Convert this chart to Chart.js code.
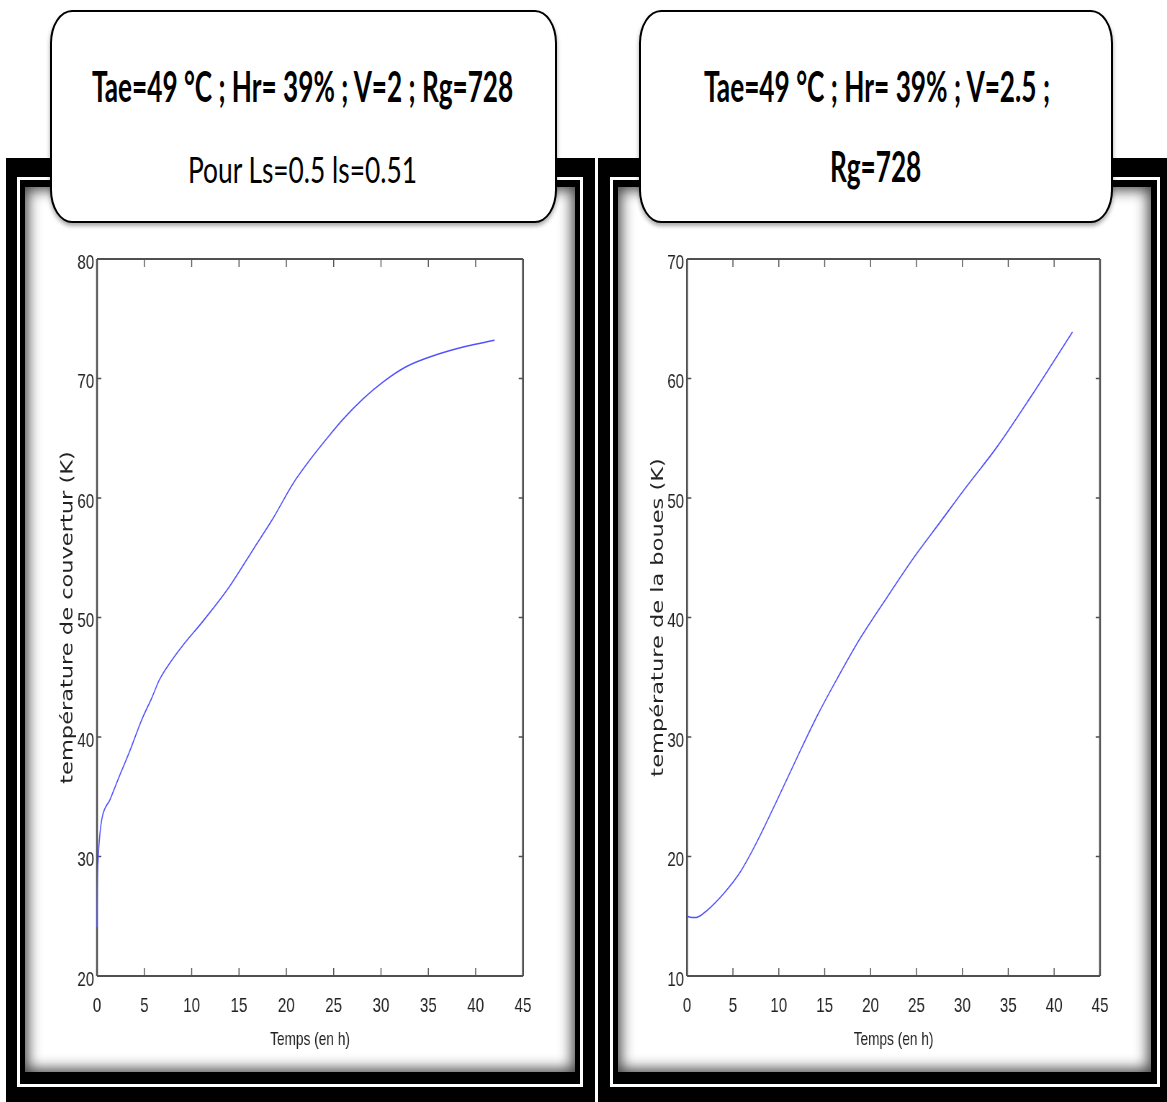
<!DOCTYPE html>
<html lang="fr">
<head>
<meta charset="utf-8" />
<title>Température de couverture et des boues</title>
<script src="https://cdn.jsdelivr.net/npm/chart.js"></script>
<style>
  body { margin: 0; width: 1167px; height: 1102px; overflow: hidden; background: #fff; position: relative; font-family: Lato, "Open Sans", sans-serif; }
  .panel { position: absolute; background: #000; }
  .ring { position: absolute; border: 3px solid #fff; box-sizing: border-box; background: #000; }
  .inner { position: absolute; background: #fff; box-shadow: inset 0 0 14px 3px rgba(0,0,0,0.75); }
  .chartBox { position: absolute; transform-origin: 0 0; z-index: 2; }
  .titre { position: absolute; background: #fff; border: 2.5px solid #000; box-sizing: border-box; border-radius: 22px / 33px; box-shadow: 0 3px 4px rgba(0,0,0,0.35); z-index: 5; }
  .ligne { position: absolute; white-space: nowrap; line-height: 1; z-index: 6; color: #000; }
  .ligne span { display: inline-block; transform-origin: 0 0; }
</style>
</head>
<body>

<!-- cadres noirs -->
<div class="panel" style="left:6px; top:158px; width:589px; height:960px;">
  <div class="ring" style="left:11px; top:19px; width:566px; height:910px;">
    <div class="inner" style="left:5px; top:7px; right:5px; bottom:12px;"></div>
  </div>
</div>
<div class="panel" style="left:598px; top:158px; width:580px; height:960px;">
  <div class="ring" style="left:12px; top:19px; width:550px; height:910px;">
    <div class="inner" style="left:5px; top:7px; right:6px; bottom:12px;"></div>
  </div>
</div>

<!-- titres -->
<div class="titre" style="left:50px; top:10px; width:507px; height:213px;"></div>
<div class="titre" style="left:639px; top:10px; width:474px; height:213px;"></div>

<div class="ligne" data-cx="302.5" data-w="421" style="top:65px; font-weight:700; font-size:42px;"><span>Tae=49 °C ; Hr= 39% ; V=2 ; Rg=728</span></div>
<div class="ligne" data-cx="302.5" data-w="229" style="top:151px; font-weight:400; font-size:36px;"><span>Pour Ls=0.5 ls=0.51</span></div>
<div class="ligne" data-cx="877" data-w="346" style="top:65px; font-weight:700; font-size:42px;"><span>Tae=49 °C ; Hr= 39% ; V=2.5 ;</span></div>
<div class="ligne" data-cx="875.5" data-w="91" style="top:145px; font-weight:700; font-size:42px;"><span>Rg=728</span></div>

<!-- graphiques -->
<div class="chartBox" id="boxGauche" style="left:30px; top:235px; width:750px; height:830px;">
  <canvas id="Couverture"></canvas>
</div>
<div class="chartBox" id="boxDroite" style="left:622px; top:235px; width:729.2px; height:830px;">
  <canvas id="Boues"></canvas>
</div>

<script>

  // --- donnees ---
  const xTicks = [0, 5, 10, 15, 20, 25, 30, 35, 40, 45];
  const yTicksCouverture = [20, 30, 40, 50, 60, 70, 80];
  const yTicksBoues = [10, 20, 30, 40, 50, 60, 70];

  const tempsCouverture = [0, 0.03, 0.14, 0.25, 0.5, 1.4, 2.25, 3.5, 4.7, 5.8, 6.6, 7.7, 9.1, 11.2, 14.0, 16.5, 18.6, 20.7, 22.5, 24.3, 26.0, 28.1, 30.2, 32.7, 35.9, 39.0, 42.0];
  const tempCouverture = [24.1, 27.1, 30.0, 31.4, 33.1, 34.8, 36.5, 38.9, 41.4, 43.3, 44.8, 46.2, 47.7, 49.7, 52.6, 55.7, 58.3, 61.2, 63.2, 65.0, 66.6, 68.3, 69.7, 71.0, 72.0, 72.7, 73.2];

  const tempsBoues = [0, 0.5, 1.0, 2.2, 4.0, 5.8, 7.6, 9.8, 12.0, 14.2, 16.3, 18.9, 21.8, 24.7, 27.6, 30.5, 33.8, 37.4, 42.0];
  const tempBoues = [15.0, 14.9, 14.9, 15.5, 16.9, 18.7, 21.2, 24.7, 28.3, 31.8, 34.8, 38.3, 41.7, 45.0, 48.0, 51.0, 54.3, 58.4, 63.9];

  const ECRASEMENT = 0.72;   // la figure d'origine est comprimee en largeur
  const police = '"Liberation Sans", Arial, sans-serif';
  const policeTitreY = '"DejaVu Sans", Verdana, sans-serif';

  // ajuste les lignes de titre a leur largeur
  document.querySelectorAll('.ligne').forEach(function (el) {
    const span = el.querySelector('span');
    const w = parseFloat(el.dataset.w);
    const k = w / span.offsetWidth;
    span.style.transform = 'scaleX(' + k + ')';
    el.style.left = (parseFloat(el.dataset.cx) - w / 2) + 'px';
  });

  // cadre style matlab : boite + graduations vers l'interieur
  const cadreMatlab = {
    id: 'cadreMatlab',
    beforeDatasetsDraw(chart) {
      const ctx = chart.ctx;
      const a = chart.chartArea;
      const x = chart.scales.x, y = chart.scales.y;
      ctx.save();
      ctx.strokeStyle = '#505050';
      ctx.lineWidth = 2;
      ctx.beginPath();
      ctx.moveTo(a.left, a.top); ctx.lineTo(a.right, a.top);
      ctx.moveTo(a.left, a.bottom); ctx.lineTo(a.right, a.bottom);
      ctx.stroke();
      ctx.lineWidth = 2.6;
      ctx.beginPath();
      ctx.moveTo(a.left, a.top); ctx.lineTo(a.left, a.bottom);
      ctx.moveTo(a.right, a.top); ctx.lineTo(a.right, a.bottom);
      ctx.stroke();
      ctx.lineWidth = 1.4;
      ctx.beginPath();
      x.ticks.forEach(function (t) {
        const px = x.getPixelForValue(t.value);
        ctx.moveTo(px, a.bottom); ctx.lineTo(px, a.bottom - 8);
        ctx.moveTo(px, a.top); ctx.lineTo(px, a.top + 8);
      });
      y.ticks.forEach(function (t) {
        const py = y.getPixelForValue(t.value);
        ctx.moveTo(a.left, py); ctx.lineTo(a.left + 6, py);
        ctx.moveTo(a.right, py); ctx.lineTo(a.right - 6, py);
      });
      ctx.stroke();
      ctx.restore();
    }
  };

  function graphique(canvasId, boxId, temps, valeurs, yTicks, titreY, largeurAxeY, padTitreY) {
    document.getElementById(boxId).style.transform = 'scaleX(' + ECRASEMENT + ')';
    const points = temps.map(function (t, i) { return { x: t, y: valeurs[i] }; });

    return new Chart(document.getElementById(canvasId), {
      type: 'line',
      data: {
        datasets: [{
          data: points,
          borderColor: 'rgb(80, 80, 255)',
          borderWidth: 1.5,
          pointRadius: 0,
          fill: false,
          cubicInterpolationMode: 'monotone',
          clip: 4
        }]
      },
      options: {
        responsive: true,
        maintainAspectRatio: false,
        animation: false,
        layout: { padding: { top: 24, right: 65.3, bottom: 0, left: 0 } },
        plugins: { legend: { display: false }, tooltip: { enabled: false } },
        scales: {
          x: {
            type: 'linear',
            min: xTicks[0],
            max: xTicks[xTicks.length - 1],
            afterBuildTicks: function (s) { s.ticks = xTicks.map(function (v) { return { value: v }; }); },
            afterFit: function (s) { s.height = 89; },
            grid: { display: false, drawTicks: false },
            border: { display: false },
            ticks: { font: { family: police, size: 21 }, color: '#222', padding: 18, maxRotation: 0, autoSkip: false },
            title: { display: true, text: 'Temps (en h)', font: { family: police, size: 19 }, color: '#222', padding: { top: 0, bottom: 13.6 } }
          },
          y: {
            min: yTicks[0],
            max: yTicks[yTicks.length - 1],
            afterBuildTicks: function (s) { s.ticks = yTicks.map(function (v) { return { value: v }; }); },
            afterFit: function (s) { s.width = largeurAxeY; },
            grid: { display: false, drawTicks: false },
            border: { display: false },
            ticks: { font: { family: police, size: 21 }, color: '#222', padding: 4, labelOffset: 4, autoSkip: false },
            title: { display: true, text: titreY, font: { family: policeTitreY, size: 22.5 }, color: '#222', padding: { top: padTitreY, bottom: 0 } }
          }
        }
      },
      plugins: [cadreMatlab]
    });
  }

  graphique('Couverture', 'boxGauche', tempsCouverture, tempCouverture, yTicksCouverture, 'température de couvertur (K)', 93.06, 39.3);
  graphique('Boues', 'boxDroite', tempsBoues, tempBoues, yTicksBoues, 'température de la boues (K)', 90.3, 37.9);

</script>
</body>
</html>
